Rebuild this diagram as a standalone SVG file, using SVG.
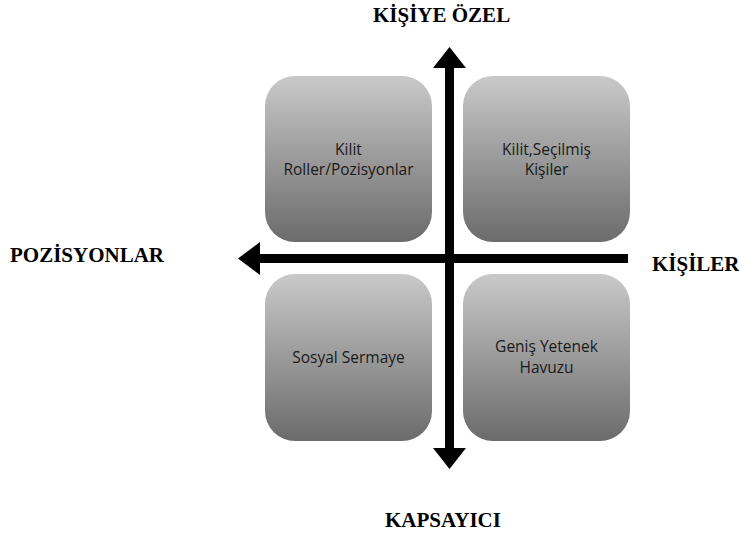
<svg xmlns="http://www.w3.org/2000/svg" width="739" height="534" viewBox="0 0 739 534">
<style>
.box{fill:url(#g)}
.t{font-family:"Open Sans","Liberation Sans",sans-serif;font-size:15.5px;fill:#1a1a1a;text-anchor:middle}
.lab{font-family:"Liberation Serif","Times New Roman",serif;font-weight:bold;font-size:21px;fill:#000}
</style>
<defs>
<linearGradient id="g" x1="0" y1="0" x2="0" y2="1">
<stop offset="0" stop-color="#c9c9c9"/>
<stop offset="1" stop-color="#6b6b6b"/>
</linearGradient>
</defs>
<rect width="739" height="534" fill="#fff"/>
<g id="node-kilit-roller">
<rect class="box" x="265" y="76" width="167" height="166" rx="30"/>
<text class="t" x="348.5" y="155">Kilit</text>
<text class="t" x="348.5" y="175">Roller/Pozisyonlar</text>
</g>
<g id="node-kilit-secilmis">
<rect class="box" x="463" y="76" width="167" height="166" rx="30"/>
<text class="t" x="546.5" y="155">Kilit,Seçilmiş</text>
<text class="t" x="546.5" y="175">Kişiler</text>
</g>
<g id="node-sosyal">
<rect class="box" x="265" y="274" width="167" height="167" rx="30"/>
<text class="t" x="348.5" y="363">Sosyal Sermaye</text>
</g>
<g id="node-genis">
<rect class="box" x="463" y="274" width="167" height="167" rx="30"/>
<text class="t" x="546.5" y="352">Geniş Yetenek</text>
<text class="t" x="546.5" y="373">Havuzu</text>
</g>
<g id="connectors">
<rect x="445" y="66" width="9" height="384" fill="#000"/>
<polygon points="449.5,47 433,68 466,68" fill="#000"/>
<polygon points="449.5,469 433,448 466,448" fill="#000"/>
<rect x="258" y="254" width="370" height="9" fill="#000"/>
<polygon points="238,258.5 260,242 260,275" fill="#000"/>
</g>
<g id="labels">
<text class="lab" x="373" y="22">KİŞİYE ÖZEL</text>
<text class="lab" x="10" y="262">POZİSYONLAR</text>
<text class="lab" x="652" y="271">KİŞİLER</text>
<text class="lab" x="385" y="527">KAPSAYICI</text>
</g>
</svg>
